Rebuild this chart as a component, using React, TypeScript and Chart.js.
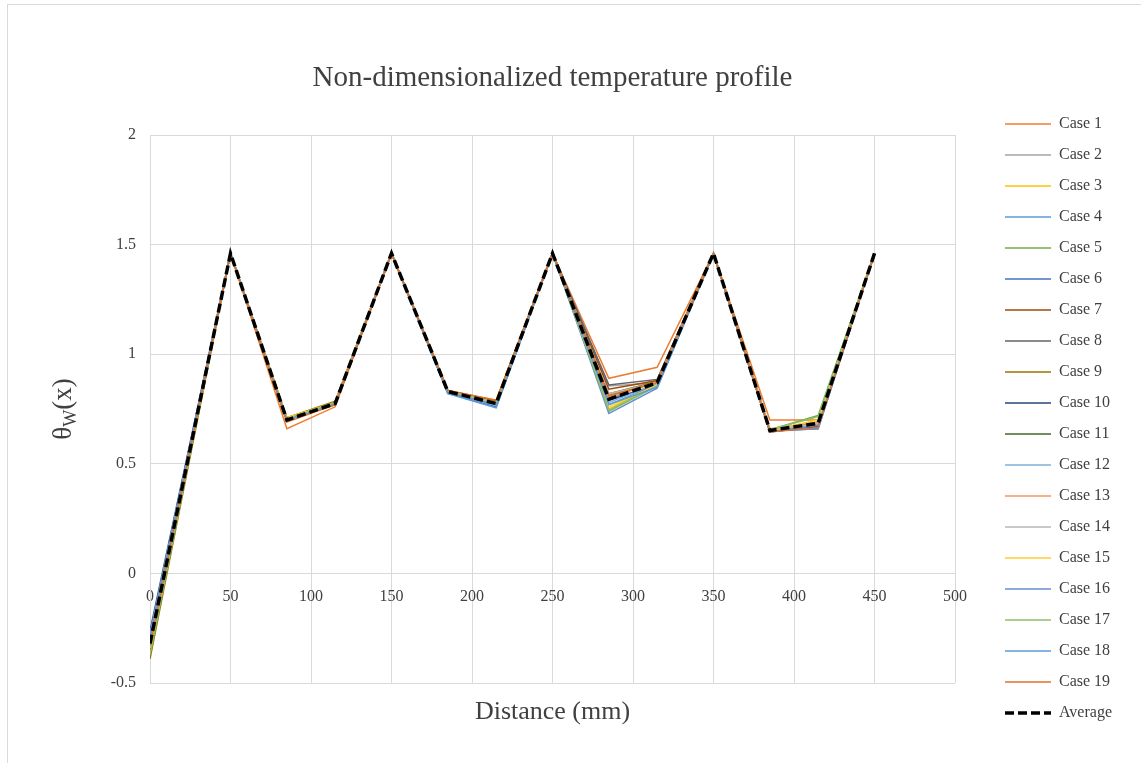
import React, { useEffect, useRef } from "react";
import { Chart, registerables } from "chart.js";

Chart.register(...registerables);

const FONT = "'Liberation Serif', 'Times New Roman', serif";
const TEXT = "#404040";
const GRID = "#d9d9d9";

const chartTitle = "Non-dimensionalized temperature profile";
const xAxisTitle = "Distance (mm)";

const distances = [0, 50, 85, 115, 150, 185, 215, 250, 285, 315, 350, 385, 415, 450];

const case1 = [-0.30, 1.46, 0.66, 0.76, 1.46, 0.835, 0.79, 1.46, 0.89, 0.94, 1.46, 0.70, 0.70, 1.45];
const case2 = [-0.28, 1.46, 0.70, 0.78, 1.46, 0.83, 0.78, 1.46, 0.855, 0.87, 1.46, 0.65, 0.68, 1.46];
const case3 = [-0.33, 1.46, 0.71, 0.78, 1.46, 0.83, 0.775, 1.46, 0.75, 0.86, 1.46, 0.65, 0.70, 1.46];
const case4 = [-0.26, 1.46, 0.70, 0.775, 1.46, 0.82, 0.77, 1.46, 0.77, 0.86, 1.46, 0.645, 0.67, 1.46];
const case5 = [-0.36, 1.46, 0.705, 0.78, 1.46, 0.83, 0.78, 1.46, 0.74, 0.855, 1.46, 0.655, 0.72, 1.46];
const case6 = [-0.31, 1.46, 0.70, 0.77, 1.46, 0.825, 0.76, 1.46, 0.80, 0.85, 1.46, 0.65, 0.66, 1.46];
const case7 = [-0.34, 1.46, 0.70, 0.78, 1.46, 0.83, 0.785, 1.46, 0.84, 0.88, 1.46, 0.65, 0.67, 1.46];
const case8 = [-0.29, 1.46, 0.705, 0.775, 1.46, 0.83, 0.78, 1.46, 0.86, 0.885, 1.46, 0.655, 0.69, 1.46];
const case9 = [-0.39, 1.46, 0.71, 0.785, 1.46, 0.835, 0.785, 1.46, 0.82, 0.875, 1.46, 0.65, 0.68, 1.46];
const case10 = [-0.27, 1.46, 0.70, 0.775, 1.46, 0.825, 0.77, 1.46, 0.79, 0.86, 1.46, 0.645, 0.675, 1.46];
const case11 = [-0.35, 1.46, 0.705, 0.78, 1.46, 0.83, 0.78, 1.46, 0.81, 0.87, 1.46, 0.65, 0.69, 1.46];
const case12 = [-0.30, 1.46, 0.70, 0.78, 1.46, 0.825, 0.765, 1.46, 0.78, 0.865, 1.46, 0.65, 0.68, 1.46];
const case13 = [-0.32, 1.46, 0.70, 0.78, 1.46, 0.83, 0.78, 1.46, 0.80, 0.875, 1.46, 0.66, 0.69, 1.46];
const case14 = [-0.28, 1.46, 0.70, 0.775, 1.46, 0.83, 0.775, 1.46, 0.82, 0.87, 1.46, 0.65, 0.685, 1.46];
const case15 = [-0.34, 1.46, 0.71, 0.78, 1.46, 0.83, 0.78, 1.46, 0.76, 0.86, 1.46, 0.65, 0.70, 1.46];
const case16 = [-0.29, 1.46, 0.70, 0.775, 1.46, 0.825, 0.77, 1.46, 0.73, 0.845, 1.46, 0.645, 0.675, 1.46];
const case17 = [-0.37, 1.46, 0.705, 0.78, 1.46, 0.83, 0.78, 1.46, 0.745, 0.855, 1.46, 0.655, 0.715, 1.46];
const case18 = [-0.31, 1.46, 0.70, 0.77, 1.46, 0.82, 0.755, 1.46, 0.77, 0.85, 1.46, 0.65, 0.66, 1.46];
const case19 = [-0.33, 1.46, 0.69, 0.77, 1.46, 0.835, 0.79, 1.46, 0.81, 0.87, 1.46, 0.645, 0.665, 1.46];
const averageValues = [-0.32, 1.46, 0.70, 0.775, 1.46, 0.83, 0.775, 1.46, 0.795, 0.87, 1.46, 0.652, 0.685, 1.46];

const caseSeries = [
  case1, case2, case3, case4, case5, case6, case7, case8, case9, case10,
  case11, case12, case13, case14, case15, case16, case17, case18, case19,
];
const caseNames = caseSeries.map((_, i) => `Case ${i + 1}`);
const caseColors = [
  "#ED7D31", "#A5A5A5", "#FFC000", "#5B9BD5", "#70AD47", "#4472C4", "#9E480E",
  "#636363", "#997300", "#264478", "#43682B", "#7CAFDD", "#F1975A", "#B7B7B7",
  "#FFCD33", "#698ED0", "#8CC168", "#5B9BD5", "#E0702A",
];
const averageDash = [9, 4];

const xMin = 0, xMax = 500, xStep = 50;
const yMin = -0.5, yMax = 2, yStep = 0.5;

const yTitlePlugin = {
  id: "yTitleSub",
  afterDraw(chart: any) {
    const { ctx, chartArea } = chart;
    const cy = (chartArea.top + chartArea.bottom) / 2;
    ctx.save();
    ctx.translate(71, cy);
    ctx.rotate(-Math.PI / 2);
    ctx.fillStyle = TEXT;
    ctx.textBaseline = "alphabetic";
    ctx.textAlign = "left";
    const big = `27px ${FONT}`;
    const small = `18px ${FONT}`;
    ctx.font = big;
    const w1 = ctx.measureText("θ").width;
    const w3 = ctx.measureText("(x)").width;
    ctx.font = small;
    const w2 = ctx.measureText("W").width;
    let x = -(w1 + w2 + w3) / 2;
    ctx.font = big;
    ctx.fillText("θ", x, 0);
    x += w1;
    ctx.font = small;
    ctx.fillText("W", x, 5);
    x += w2;
    ctx.font = big;
    ctx.fillText("(x)", x, 0);
    ctx.restore();
  },
};

export default function App() {
  const ref = useRef<HTMLCanvasElement | null>(null);

  useEffect(() => {
    if (!ref.current) return;
    const toPoints = (vals: number[]) => distances.map((d, i) => ({ x: d, y: vals[i] }));
    const datasets: any[] = caseSeries.map((vals, i) => ({
      label: caseNames[i],
      data: toPoints(vals),
      borderColor: caseColors[i],
      backgroundColor: caseColors[i],
      borderWidth: 1.5,
      pointRadius: 0,
      tension: 0,
      order: caseSeries.length - i,
    }));
    datasets.push({
      label: "Average",
      data: toPoints(averageValues),
      borderColor: "#000000",
      backgroundColor: "#000000",
      borderWidth: 3.5,
      borderDash: averageDash,
      pointRadius: 0,
      tension: 0,
      order: 0,
    });

    const tickFont = { family: FONT, size: 16 };
    const defaultLabels = (Chart as any).defaults.plugins.legend.labels.generateLabels;

    const chart = new Chart(ref.current, {
      type: "line",
      data: { datasets },
      plugins: [yTitlePlugin],
      options: {
        responsive: false,
        animation: false,
        devicePixelRatio: 1,
        layout: { padding: { left: 0, top: 0, right: 19, bottom: 0 } },
        plugins: {
          title: {
            display: true,
            text: chartTitle,
            fullSize: false,
            color: TEXT,
            font: { family: FONT, size: 29, weight: "normal" },
            padding: { top: 61, bottom: 39.2 },
          },
          legend: {
            position: "right",
            align: "center",
            fullSize: true,
            title: { display: true, text: " ", font: { size: 10 }, padding: { top: 62, bottom: 0 } },
            labels: {
              usePointStyle: true,
              pointStyle: "line",
              pointStyleWidth: 46,
              color: TEXT,
              font: { family: FONT, size: 16 },
              padding: 15,
              sort: (a: any, b: any) => a.datasetIndex - b.datasetIndex,
              generateLabels: (c: any) =>
                defaultLabels(c).map((item: any) => {
                  const ds = c.data.datasets[item.datasetIndex];
                  return { ...item, lineDash: ds.borderDash || [], lineWidth: ds.borderWidth };
                }),
            },
          },
          tooltip: { enabled: false },
        },
        scales: {
          x: {
            type: "linear",
            position: { y: 0 } as any,
            min: xMin,
            max: xMax,
            ticks: { stepSize: xStep, padding: 14, color: TEXT, font: tickFont, maxRotation: 0, autoSkip: false },
            grid: { color: GRID, drawTicks: false, lineWidth: 1 },
            border: { color: GRID },
          },
          xTitle: {
            type: "linear",
            axis: "x",
            position: "bottom",
            grid: { display: false },
            border: { display: false },
            ticks: { display: false },
            title: {
              display: true,
              text: xAxisTitle,
              color: TEXT,
              font: { family: FONT, size: 26 },
              padding: { top: 5.4, bottom: 35.4 },
            },
          },
          y: {
            type: "linear",
            position: "left",
            min: yMin,
            max: yMax,
            ticks: {
              stepSize: yStep,
              padding: 14,
              color: TEXT,
              font: tickFont,
              callback: (v: any) => `${Math.round(Number(v) * 10) / 10}`,
            },
            grid: { color: GRID, drawTicks: false, lineWidth: 1 },
            border: { color: GRID },
            afterFit: (s: any) => {
              s.width = 150;
            },
          },
          yRight: {
            type: "linear",
            axis: "y",
            position: "right",
            grid: { display: false },
            border: { display: false },
            ticks: { display: false },
            afterFit: (s: any) => {
              const lg = s.chart.legend;
              s.width = lg ? Math.max(0, 1141 - 19 - lg.width - 955) : 32;
            },
          },
        } as any,
      },
    } as any);
    return () => chart.destroy();
  }, []);

  return (
    <div style={{ position: "absolute", left: 0, top: 0, width: 1141, height: 763, overflow: "hidden", background: "#fff" }}>
      <div
        style={{
          position: "absolute",
          left: 7,
          top: 4,
          width: 1200,
          height: 800,
          borderLeft: "1px solid #d9d9d9",
          borderTop: "1px solid #d9d9d9",
        }}
      />
      <canvas ref={ref} width={1141} height={763} style={{ position: "absolute", left: 0, top: 0, width: 1141, height: 763 }} />
    </div>
  );
}
